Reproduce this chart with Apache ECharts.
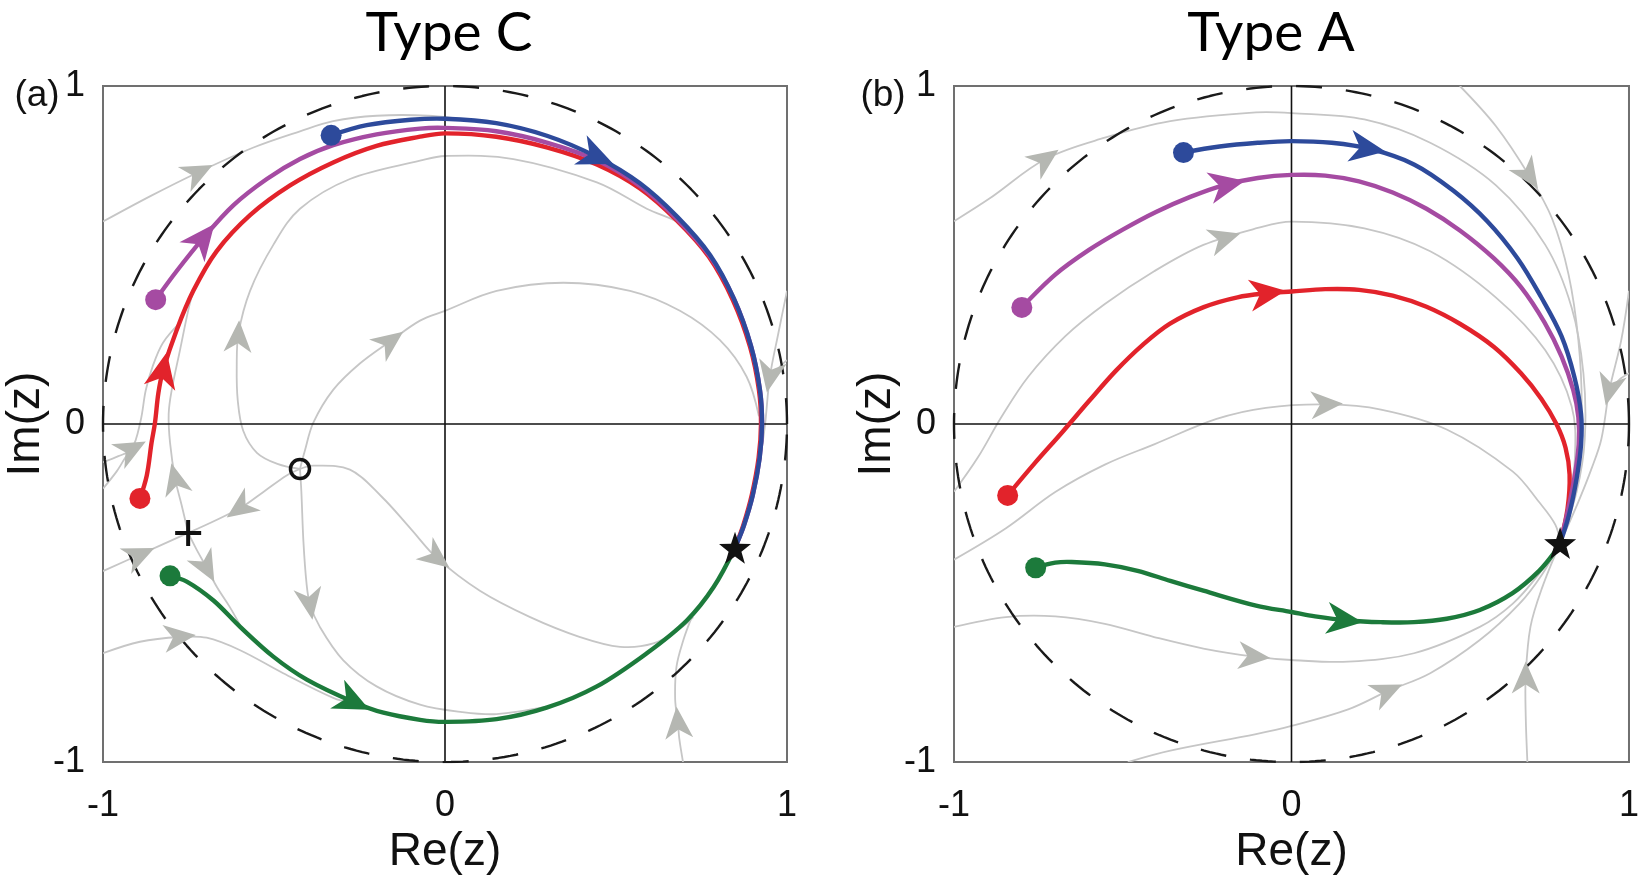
<!DOCTYPE html>
<html>
<head>
<meta charset="utf-8">
<script src="https://cdn.jsdelivr.net/npm/echarts@6/dist/echarts.min.js"></script>
<style>
  html, body { margin: 0; padding: 0; background: #ffffff; }
  #chart { width: 1642px; height: 880px; }
</style>
</head>
<body>
<div id="chart"></div>
<script>
// ---------- axis setup ----------
const axisTicks = [-1, 0, 1];
const panelTitles = ['Type C', 'Type A'];
const panelTags = ['(a)', '(b)'];
const xAxisName = 'Re(z)';
const yAxisName = 'Im(z)';

// ---------- panel (a): Type C ----------
const typeC_blue = [[-0.333,0.854],[-0.229,0.884],[-0.1,0.9],[0,0.903],[0.15,0.89],[0.3,0.852],[0.444,0.79],[0.57,0.712],[0.68,0.612],[0.775,0.5],[0.845,0.37],[0.895,0.23],[0.921,0.1],[0.927,0.0],[0.92,-0.1],[0.9,-0.21],[0.874,-0.3],[0.848,-0.366]];
const typeC_purple = [[-0.846,0.368],[-0.785,0.452],[-0.707,0.55],[-0.619,0.647],[-0.521,0.725],[-0.424,0.784],[-0.327,0.825],[-0.2,0.857],[-0.073,0.874],[0,0.876],[0.15,0.866],[0.3,0.832],[0.444,0.78],[0.57,0.704],[0.678,0.607],[0.774,0.497],[0.845,0.37],[0.895,0.23],[0.921,0.1],[0.927,0.0],[0.92,-0.1],[0.9,-0.21],[0.874,-0.3],[0.848,-0.366]];
const typeC_red = [[-0.892,-0.22],[-0.872,-0.152],[-0.858,-0.055],[-0.848,0.004],[-0.838,0.092],[-0.824,0.16],[-0.785,0.277],[-0.736,0.394],[-0.668,0.511],[-0.57,0.618],[-0.453,0.706],[-0.327,0.774],[-0.2,0.823],[-0.073,0.85],[0,0.86],[0.15,0.85],[0.3,0.818],[0.444,0.768],[0.57,0.697],[0.677,0.603],[0.772,0.494],[0.842,0.366],[0.892,0.228],[0.918,0.1],[0.924,0.0],[0.917,-0.1],[0.897,-0.21],[0.872,-0.3],[0.848,-0.366]];
const typeC_green = [[-0.804,-0.449],[-0.755,-0.466],[-0.677,-0.522],[-0.599,-0.6],[-0.502,-0.688],[-0.404,-0.756],[-0.268,-0.822],[-0.18,-0.854],[-0.073,-0.875],[0,-0.881],[0.151,-0.873],[0.297,-0.839],[0.444,-0.776],[0.59,-0.678],[0.707,-0.581],[0.785,-0.483],[0.848,-0.366]];
// arrowhead positions on each trajectory
const typeC_blueArrows = [[0.444,0.79]];
const typeC_purpleArrows = [[-0.707,0.55]];
const typeC_redArrows = [[-0.824,0.16]];
const typeC_greenArrows = [[-0.268,-0.822]];
// fixed points
const typeC_stable = [0.848,-0.366];
const typeC_source = [-0.424,-0.133];
const typeC_saddle = [-0.751,-0.322];
// background flow lines
const typeC_flows = [
  [[-1,0.599],[-0.86,0.675],[-0.721,0.745],[-0.56,0.818],[-0.424,0.866],[-0.327,0.896],[-0.2,0.912],[-0.05,0.912],[0.1,0.895]],
  [[-0.424,-0.133],[-0.49,-0.118],[-0.55,-0.085],[-0.59,-0.02],[-0.606,0.07],[-0.609,0.17],[-0.604,0.267],[-0.57,0.394],[-0.502,0.53],[-0.424,0.637],[-0.278,0.725],[-0.073,0.779],[0,0.793],[0.2,0.784],[0.444,0.715],[0.59,0.637],[0.70,0.585],[0.77,0.494]],
  [[-0.424,-0.133],[-0.41,-0.08],[-0.385,0.004],[-0.327,0.101],[-0.249,0.179],[-0.16,0.245],[-0.073,0.306],[0,0.335],[0.151,0.394],[0.346,0.418],[0.541,0.394],[0.687,0.335],[0.804,0.248],[0.882,0.14],[0.918,0.023]],
  [[-0.424,-0.133],[-0.385,-0.123],[-0.278,-0.135],[-0.185,-0.215],[-0.1,-0.31],[-0.024,-0.396],[0.102,-0.493],[0.249,-0.571],[0.395,-0.63],[0.512,-0.659],[0.609,-0.649],[0.687,-0.605],[0.726,-0.571]],
  [[-0.424,-0.133],[-0.42,-0.2],[-0.414,-0.347],[-0.405,-0.47],[-0.395,-0.532],[-0.366,-0.6],[-0.298,-0.698],[-0.2,-0.776],[-0.073,-0.83],[0.05,-0.852],[0.151,-0.858],[0.297,-0.836]],
  [[-0.424,-0.133],[-0.463,-0.152],[-0.53,-0.2],[-0.6,-0.249],[-0.751,-0.322]],
  [[-1,-0.435],[-0.892,-0.386],[-0.751,-0.322]],
  [[-0.751,-0.322],[-0.77,-0.24],[-0.789,-0.162],[-0.804,-0.055],[-0.808,0.03],[-0.799,0.101],[-0.775,0.218],[-0.75,0.34],[-0.736,0.394]],
  [[-1,-0.113],[-0.955,-0.095],[-0.916,-0.074],[-0.89,0.01],[-0.875,0.1],[-0.855,0.17],[-0.825,0.24],[-0.775,0.30]],
  [[-1,-0.191],[-0.96,-0.14],[-0.935,-0.1],[-0.916,-0.074]],
  [[-0.751,-0.322],[-0.727,-0.37],[-0.697,-0.425],[-0.667,-0.482],[-0.63,-0.54],[-0.599,-0.595]],
  [[-1,-0.678],[-0.892,-0.644],[-0.775,-0.63],[-0.697,-0.632],[-0.599,-0.669],[-0.473,-0.737],[-0.327,-0.81],[-0.268,-0.826]],
  [[0.696,-1],[0.685,-0.93],[0.681,-0.883],[0.673,-0.815],[0.677,-0.717],[0.697,-0.639],[0.72,-0.575]],
  [[1,0.394],[0.975,0.27],[0.95,0.14],[0.936,0.0],[0.925,-0.08]],
  [[1,0.189],[0.975,0.165],[0.952,0.13]]
];
// [flow line index, x, y] of each grey arrowhead
const typeC_flowArrows = [
  [0,-0.721,0.745],[1,-0.606,0.26],[2,-0.16,0.245],[3,-0.024,-0.396],[4,-0.395,-0.532],
  [5,-0.6,-0.249],[6,-0.892,-0.386],[7,-0.789,-0.162],[8,-0.916,-0.074],[10,-0.697,-0.425],
  [11,-0.775,-0.63],[12,0.682,-0.883],[13,0.95,0.14]
];

// ---------- panel (b): Type A ----------
const typeA_blue = [[-0.32,0.803],[-0.213,0.821],[-0.1,0.832],[0,0.837],[0.119,0.832],[0.236,0.813],[0.363,0.768],[0.48,0.69],[0.58,0.6],[0.67,0.49],[0.74,0.375],[0.8,0.26],[0.838,0.14],[0.858,0.03],[0.858,-0.06],[0.845,-0.16],[0.822,-0.27],[0.796,-0.352]];
const typeA_purple = [[-0.799,0.345],[-0.7,0.442],[-0.6,0.515],[-0.5,0.575],[-0.4,0.628],[-0.3,0.672],[-0.2,0.707],[-0.1,0.728],[0,0.737],[0.1,0.735],[0.2,0.718],[0.3,0.685],[0.4,0.637],[0.5,0.572],[0.6,0.49],[0.68,0.405],[0.75,0.3],[0.8,0.2],[0.835,0.1],[0.85,0.02],[0.851,-0.06],[0.838,-0.16],[0.816,-0.27],[0.796,-0.352]];
const typeA_red = [[-0.841,-0.211],[-0.76,-0.115],[-0.68,-0.025],[-0.6,0.068],[-0.52,0.158],[-0.44,0.235],[-0.36,0.297],[-0.26,0.346],[-0.16,0.375],[-0.07,0.387],[0,0.392],[0.1,0.399],[0.2,0.397],[0.3,0.38],[0.4,0.347],[0.5,0.296],[0.6,0.228],[0.68,0.15],[0.74,0.075],[0.785,0.0],[0.812,-0.07],[0.824,-0.15],[0.818,-0.25],[0.796,-0.352]];
const typeA_green = [[-0.758,-0.425],[-0.7,-0.41],[-0.651,-0.408],[-0.553,-0.415],[-0.456,-0.434],[-0.359,-0.464],[-0.261,-0.493],[-0.105,-0.537],[0,-0.556],[0.07,-0.569],[0.168,-0.581],[0.265,-0.586],[0.363,-0.586],[0.46,-0.576],[0.558,-0.55],[0.655,-0.5],[0.733,-0.435],[0.782,-0.376],[0.796,-0.352]];
const typeA_blueArrows = [[0.226,0.815]];
const typeA_purpleArrows = [[-0.19,0.709]];
const typeA_redArrows = [[-0.07,0.387]];
const typeA_greenArrows = [[0.158,-0.58]];
const typeA_stable = [0.796,-0.352];
const typeA_flows = [
  [[-1,0.6],[-0.895,0.667],[-0.729,0.784],[-0.553,0.847],[-0.359,0.896],[-0.105,0.922],[0,0.92],[0.216,0.901],[0.411,0.832],[0.606,0.706],[0.752,0.53],[0.83,0.345],[0.865,0.15],[0.869,-0.045],[0.845,-0.2],[0.796,-0.352]],
  [[-1,-0.2],[-0.93,-0.1],[-0.86,0.02],[-0.78,0.14],[-0.67,0.26],[-0.553,0.355],[-0.407,0.452],[-0.261,0.53],[-0.1,0.58],[0,0.599],[0.216,0.579],[0.411,0.511],[0.606,0.374],[0.752,0.218],[0.83,0.053],[0.84,-0.094],[0.82,-0.25],[0.796,-0.352]],
  [[-1,-0.401],[-0.846,-0.308],[-0.7,-0.201],[-0.553,-0.12],[-0.407,-0.06],[-0.222,0.015],[-0.076,0.048],[0.105,0.058],[0.265,0.043],[0.46,-0.016],[0.655,-0.14],[0.733,-0.23],[0.782,-0.298],[0.796,-0.352]],
  [[-1,-0.6],[-0.846,-0.571],[-0.7,-0.569],[-0.553,-0.591],[-0.407,-0.63],[-0.261,-0.664],[-0.11,-0.688],[0,-0.698],[0.168,-0.703],[0.363,-0.678],[0.558,-0.6],[0.655,-0.532],[0.733,-0.444],[0.796,-0.352]],
  [[-0.485,-1],[-0.359,-0.966],[-0.105,-0.917],[0,-0.893],[0.168,-0.844],[0.285,-0.79],[0.411,-0.737],[0.558,-0.639],[0.675,-0.532],[0.743,-0.444],[0.796,-0.352]],
  [[0.699,-1],[0.694,-0.863],[0.694,-0.746],[0.708,-0.6],[0.743,-0.483],[0.796,-0.352]],
  [[0.499,1],[0.606,0.881],[0.704,0.735],[0.772,0.608],[0.821,0.442],[0.85,0.248],[0.86,0.053],[0.85,-0.15],[0.796,-0.352]],
  [[1,0.394],[0.977,0.248],[0.942,0.101],[0.918,-0.045],[0.889,-0.132],[0.85,-0.23],[0.796,-0.352]],
  [[1,0.15],[0.97,0.13],[0.945,0.1]]
];
const typeA_flowArrows = [
  [0,-0.729,0.784],[1,-0.2,0.56],[2,0.105,0.058],[3,-0.11,-0.688],[4,0.285,-0.79],
  [5,0.694,-0.75],[6,0.704,0.735],[7,0.942,0.101]
];

// ---------- styling ----------
const BLUE = '#2d4a9b', PURPLE = '#a54ba2', RED = '#e2232b', GREEN = '#1c7a3b';
const FLOW_COLOR = '#c6c6c6', FLOW_ARROW_COLOR = '#b5b7b2';
const ARROW_PATH = 'path://M0,0 L32,14 L0,28 L9,14 Z';
const STAR_PATH = 'path://M50,0 L61.76,33.82 L97.55,34.55 L69.02,56.18 L79.39,90.45 L50,70 L20.61,90.45 L30.98,56.18 L2.45,34.55 L38.24,33.82 Z';
const PLUS_PATH = 'path://M0,11 L26,11 L26,15 L0,15 Z M11,0 L15,0 L15,26 L11,26 Z';
const GRID_LEFT = [103, 954], GRID_TOP = 86, GRID_SIZE = 684;

// unit circle |z| = 1
const unitCircle = [];
for (let i = 0; i <= 360; i++) {
  const t = (i / 360) * 2 * Math.PI;
  unitCircle.push([Math.cos(t), Math.sin(t)]);
}

// snap an arrowhead onto its path and orient it along the local segment
function placeArrow(path, p) {
  let best = Infinity, out = { value: p, angle: 0 };
  for (let i = 0; i < path.length - 1; i++) {
    const a = path[i], b = path[i + 1];
    const dx = b[0] - a[0], dy = b[1] - a[1];
    const len2 = dx * dx + dy * dy;
    let t = ((p[0] - a[0]) * dx + (p[1] - a[1]) * dy) / len2;
    t = Math.max(0, Math.min(1, t));
    const q = [a[0] + t * dx, a[1] + t * dy];
    const d = Math.hypot(q[0] - p[0], q[1] - p[1]);
    if (d < best) { best = d; out = { value: q, angle: Math.atan2(dy, dx) * 180 / Math.PI }; }
  }
  return { value: out.value, symbolRotate: out.angle };
}

// a smooth curve through the points of one path, placed by the panel's axes
function curveSeries(path, p, color, width, z) {
  return {
    type: 'custom', xAxisIndex: p, yAxisIndex: p, clip: true, silent: true, animation: false, z: z,
    data: path,
    renderItem: function (params, api) {
      if (params.dataIndex !== 0) return null;
      const pts = path.map(pt => api.coord(pt));
      return {
        type: 'polyline',
        shape: { points: pts, smooth: 0.35 },
        style: { stroke: color, lineWidth: width, fill: null, lineJoin: 'round', lineCap: 'butt' }
      };
    }
  };
}

const panels = [
  {
    flows: typeC_flows, flowArrows: typeC_flowArrows,
    trajectories: [
      { data: typeC_green, color: GREEN, arrows: typeC_greenArrows },
      { data: typeC_red, color: RED, arrows: typeC_redArrows },
      { data: typeC_purple, color: PURPLE, arrows: typeC_purpleArrows },
      { data: typeC_blue, color: BLUE, arrows: typeC_blueArrows }
    ],
    stable: typeC_stable, source: typeC_source, saddle: typeC_saddle
  },
  {
    flows: typeA_flows, flowArrows: typeA_flowArrows,
    trajectories: [
      { data: typeA_green, color: GREEN, arrows: typeA_greenArrows },
      { data: typeA_red, color: RED, arrows: typeA_redArrows },
      { data: typeA_purple, color: PURPLE, arrows: typeA_purpleArrows },
      { data: typeA_blue, color: BLUE, arrows: typeA_blueArrows }
    ],
    stable: typeA_stable, source: null, saddle: null
  }
];

const series = [];
panels.forEach((pn, p) => {
  const ax = { xAxisIndex: p, yAxisIndex: p, silent: true, animation: false };
  // grey flow lines
  pn.flows.forEach(f => series.push(curveSeries(f, p, FLOW_COLOR, 1.8, 2)));
  // axes through the origin
  series.push(Object.assign({ type: 'line', data: [[axisTicks[0], 0], [axisTicks[2], 0]], symbol: 'none', z: 3,
    lineStyle: { color: '#111', width: 1.6 } }, ax));
  series.push(Object.assign({ type: 'line', data: [[0, axisTicks[0]], [0, axisTicks[2]]], symbol: 'none', z: 3,
    lineStyle: { color: '#111', width: 1.6 } }, ax));
  // unit circle
  series.push(Object.assign({ type: 'line', data: unitCircle, symbol: 'none', z: 4,
    lineStyle: { color: '#1a1a1a', width: 2.4, type: [26, 24] } }, ax));
  // grey arrowheads
  series.push(Object.assign({
    type: 'scatter', z: 5, symbol: ARROW_PATH, symbolSize: [32, 28],
    itemStyle: { color: FLOW_ARROW_COLOR, opacity: 1 },
    data: pn.flowArrows.map(a => placeArrow(pn.flows[a[0]], [a[1], a[2]]))
  }, ax));
  // coloured trajectories
  pn.trajectories.forEach(tr => series.push(curveSeries(tr.data, p, tr.color, 4.4, 6)));
  pn.trajectories.forEach(tr => {
    series.push(Object.assign({
      type: 'scatter', z: 7, symbol: ARROW_PATH, symbolSize: [36, 32],
      itemStyle: { color: tr.color, opacity: 1 },
      data: tr.arrows.map(a => placeArrow(tr.data, a))
    }, ax));
    series.push(Object.assign({
      type: 'scatter', z: 8, symbol: 'circle', symbolSize: 21,
      itemStyle: { color: tr.color, opacity: 1 }, data: [tr.data[0]]
    }, ax));
  });
  // fixed points
  series.push(Object.assign({ type: 'scatter', z: 9, symbol: STAR_PATH, symbolSize: 32,
    itemStyle: { color: '#111', opacity: 1 }, data: [pn.stable] }, ax));
  if (pn.source) series.push(Object.assign({ type: 'scatter', z: 9, symbol: 'circle', symbolSize: 19,
    itemStyle: { color: 'rgba(0,0,0,0)', borderColor: '#111', borderWidth: 3.5, opacity: 1 }, data: [pn.source] }, ax));
  if (pn.saddle) series.push(Object.assign({ type: 'scatter', z: 9, symbol: PLUS_PATH, symbolSize: 26,
    itemStyle: { color: '#111', opacity: 1 }, data: [pn.saddle] }, ax));
});

const labelFont = 'Liberation Sans, Arial, Helvetica, sans-serif';
const option = {
  backgroundColor: '#ffffff',
  animation: false,
  grid: GRID_LEFT.map(l => ({ left: l, top: GRID_TOP, width: GRID_SIZE, height: GRID_SIZE, show: true,
    borderColor: '#707070', borderWidth: 2, backgroundColor: 'transparent' })),
  xAxis: GRID_LEFT.map((_, i) => ({
    gridIndex: i, type: 'value', min: axisTicks[0], max: axisTicks[2], interval: axisTicks[1] - axisTicks[0],
    axisLine: { show: false }, axisTick: { show: false }, splitLine: { show: false },
    axisLabel: { fontSize: 36, color: '#111', margin: 26, fontFamily: labelFont },
    name: xAxisName, nameLocation: 'middle', nameGap: 56,
    nameTextStyle: { fontSize: 46, color: '#111', fontFamily: labelFont }
  })),
  yAxis: GRID_LEFT.map((_, i) => ({
    gridIndex: i, type: 'value', min: axisTicks[0], max: axisTicks[2], interval: axisTicks[1] - axisTicks[0],
    axisLine: { show: false }, axisTick: { show: false }, splitLine: { show: false },
    axisLabel: { fontSize: 36, color: '#111', margin: 18, fontFamily: labelFont },
    name: yAxisName, nameLocation: 'middle', nameRotate: 90, nameGap: 51,
    nameTextStyle: { fontSize: 46, color: '#111', fontFamily: labelFont }
  })),
  graphic: [
    { type: 'text', x: 449, y: 33, silent: true,
      style: { text: panelTitles[0], fontSize: 55, fontFamily: 'Lato', fill: '#000', align: 'center', verticalAlign: 'middle' } },
    { type: 'text', x: 1271, y: 33, silent: true,
      style: { text: panelTitles[1], fontSize: 55, fontFamily: 'Lato', fill: '#000', align: 'center', verticalAlign: 'middle' } },
    { type: 'text', x: 37, y: 96, silent: true,
      style: { text: panelTags[0], fontSize: 37, fontFamily: labelFont, fill: '#111', align: 'center', verticalAlign: 'middle' } },
    { type: 'text', x: 883, y: 96, silent: true,
      style: { text: panelTags[1], fontSize: 37, fontFamily: labelFont, fill: '#111', align: 'center', verticalAlign: 'middle' } }
  ],
  series: series
};

const chart = echarts.init(document.getElementById('chart'), null, { renderer: 'canvas' });
chart.setOption(option);
</script>
</body>
</html>
